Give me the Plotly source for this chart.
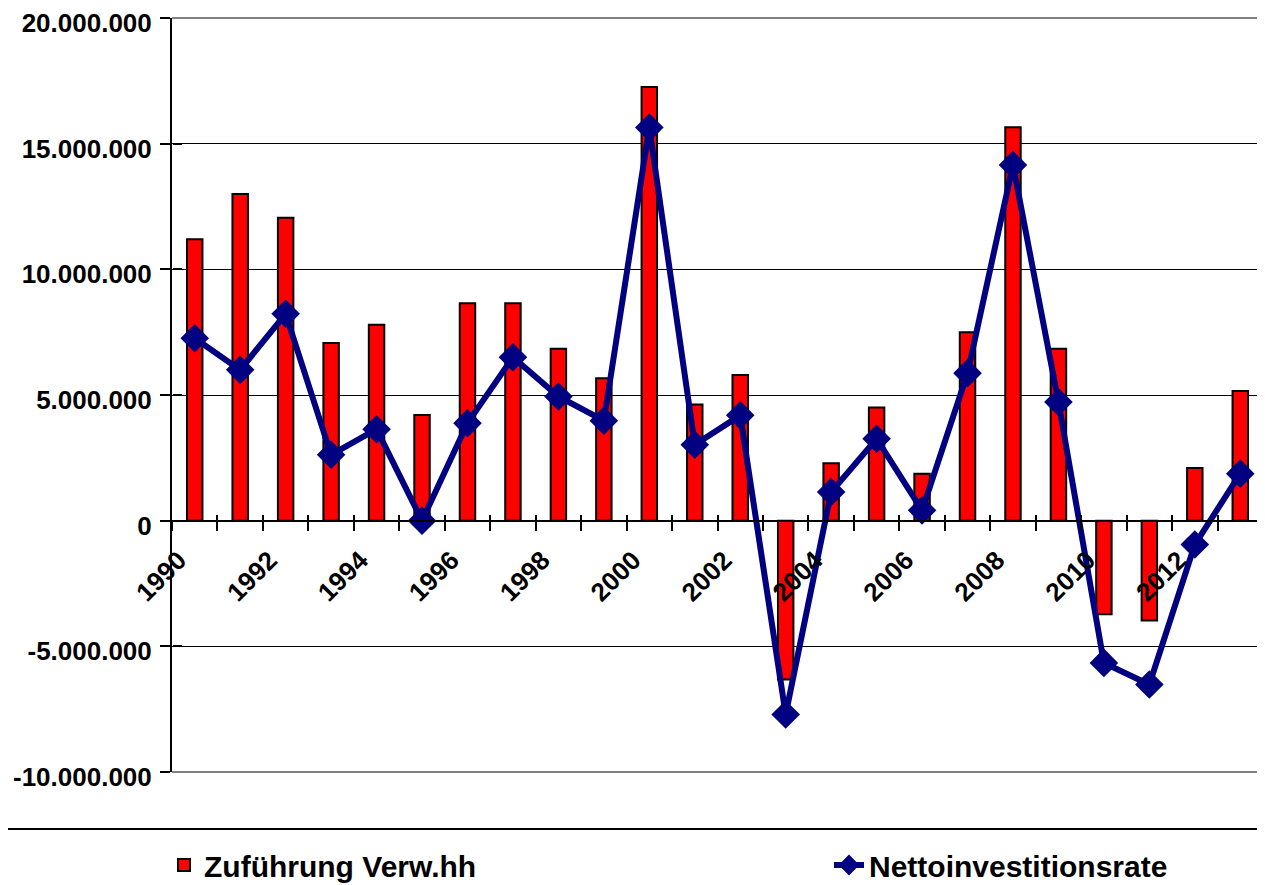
import plotly.graph_objects as go

# ---- data ----
years = list(range(1990, 2014))
zufuehrung = [11200000, 13000000, 12050000, 7070000, 7800000, 4200000, 8650000, 8650000,
              6840000, 5670000, 17250000, 4620000, 5800000, -6320000, 2280000, 4500000,
              1870000, 7500000, 15650000, 6840000, -3720000, -3970000, 2100000, 5160000]
netto = [7260000, 6000000, 8230000, 2620000, 3640000, 0, 3880000, 6500000,
         4940000, 3980000, 15640000, 3020000, 4190000, -7710000, 1140000, 3260000,
         410000, 5870000, 14150000, 4720000, -5660000, -6520000, -950000, 1870000]
xtick_vals = list(range(1990, 2013, 2))
xtick_text = [str(v) for v in xtick_vals]
ytick_vals = [-10000000, -5000000, 0, 5000000, 10000000, 15000000, 20000000]
ytick_text = ["-10.000.000", "-5.000.000", "0", "5.000.000", "10.000.000", "15.000.000", "20.000.000"]
boundaries = [y - 0.5 for y in years] + [years[-1] + 0.5]

# the page body adds an 8px margin around the figure
W, H = 1257, 877
ML, MR, MT, MB = 164, 2, 10, 113
PW, PH = W - ML - MR, H - MT - MB
YMIN, YMAX = -10000000, 20000000
zero_pos = (0 - YMIN) / (YMAX - YMIN)
SEP_Y = 821  # full-width separator line (figure px)

FONT = "Liberation Sans, Arial, sans-serif"

fig = go.Figure()
fig.add_trace(go.Bar(
    x=years, y=zufuehrung, name="Zuführung Verw.hh", width=0.34,
    marker=dict(color="#FF0000", line=dict(color="#000000", width=2)),
    legend="legend",
))
fig.add_trace(go.Scatter(
    x=years, y=netto, name="Nettoinvestitionsrate", mode="lines+markers",
    line=dict(color="#000080", width=6),
    marker=dict(symbol="diamond", size=22, color="#000080", line=dict(width=0)),
    legend="legend2",
))
# helper trace so the overlay axes (inside halves of the crossing ticks) are drawn
fig.add_trace(go.Scatter(x=[None], y=[None], xaxis="x2", yaxis="y2",
                         showlegend=False, hoverinfo="skip"))

legend_font = dict(size=30, family=FONT, weight="bold", color="black")
LEG_Y = -(857 - (H - MB)) / PH

fig.update_layout(
    width=W, height=H,
    margin=dict(l=ML, r=MR, t=MT, b=MB, autoexpand=False),
    paper_bgcolor="white", plot_bgcolor="white",
    font=dict(family=FONT, size=24, color="black", weight="bold"),
    xaxis=dict(
        range=[1989.5, 2013.5], anchor="free", position=zero_pos, automargin=False,
        showline=True, linecolor="black", linewidth=2,
        showgrid=False, zeroline=False, ticklabeloverflow="allow",
        tickmode="array", tickvals=xtick_vals, ticktext=xtick_text,
        ticks="", tickangle=-45, ticklabelstandoff=13, ticklabelshift=-16,
        tickfont=dict(size=26, family=FONT, weight="bold"),
        minor=dict(tickmode="array", tickvals=boundaries, ticks="outside",
                   ticklen=9, tickwidth=2, tickcolor="black", showgrid=False),
    ),
    xaxis2=dict(
        range=[1989.5, 2013.5], overlaying="x", anchor="free", position=zero_pos,
        automargin=False,
        showline=False, showgrid=False, zeroline=False, showticklabels=False,
        tickmode="array", tickvals=boundaries, ticks="inside",
        ticklen=6, tickwidth=2, tickcolor="black",
    ),
    yaxis=dict(
        range=[YMIN, YMAX], showline=True, linecolor="black", linewidth=2,
        automargin=False, ticklabeloverflow="allow",
        showgrid=True, gridcolor="black", gridwidth=1,
        zeroline=True, zerolinecolor="black", zerolinewidth=2,
        tickmode="array", tickvals=ytick_vals, ticktext=ytick_text,
        ticks="outside", ticklen=10, tickwidth=2, tickcolor="black",
        ticklabelstandoff=3, ticklabelshift=5,
        tickfont=dict(size=26, family=FONT, weight="bold"),
    ),
    yaxis2=dict(
        range=[YMIN, YMAX], overlaying="y", anchor="free", position=0,
        automargin=False,
        showline=False, showgrid=False, zeroline=False, showticklabels=False,
        tickmode="array", tickvals=ytick_vals, ticks="inside",
        ticklen=9, tickwidth=2, tickcolor="black",
    ),
    showlegend=True,
    legend=dict(
        orientation="h", x=(156 - ML) / PW, xanchor="left", y=LEG_Y, yanchor="middle",
        font=legend_font, bgcolor="rgba(0,0,0,0)",
    ),
    legend2=dict(
        orientation="h", x=(821 - ML) / PW, xanchor="left", y=LEG_Y, yanchor="middle",
        font=legend_font, bgcolor="rgba(0,0,0,0)",
    ),
    shapes=[
        dict(type="path", xref="paper", yref="paper",
             path="M 0 1 L 1 1 L 1 0 L 0 0",
             line=dict(color="#808080", width=2), layer="above"),
        dict(type="line", xref="paper", yref="paper",
             x0=-(ML + 8) / PW, x1=1 + MR / PW,
             y0=-(SEP_Y - (H - MB)) / PH, y1=-(SEP_Y - (H - MB)) / PH,
             line=dict(color="black", width=2)),
    ],
)

fig.write_html("out.html")
